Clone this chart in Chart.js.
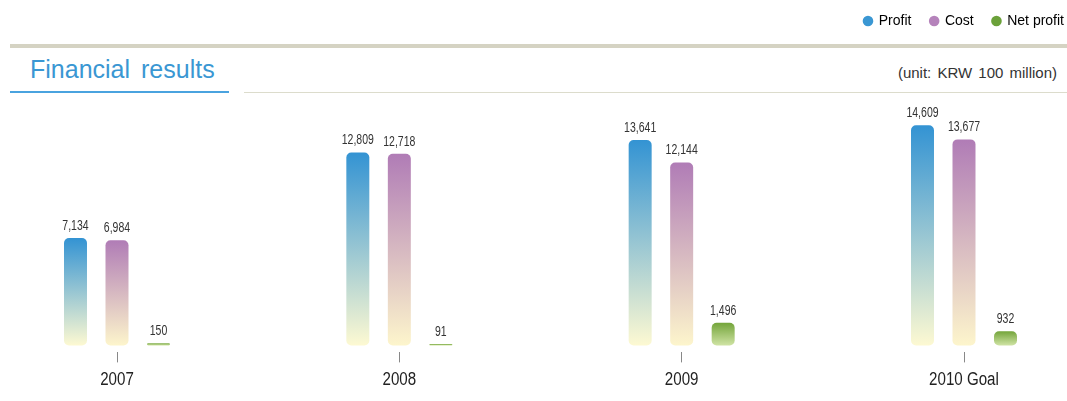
<!DOCTYPE html>
<html>
<head>
<meta charset="utf-8">
<script src="https://cdn.jsdelivr.net/npm/chart.js@4.4.1/dist/chart.umd.min.js"></script>
<style>
  body { margin: 0; background: #fff; }
  #wrap { position: relative; width: 1067px; height: 401px; overflow: hidden; }
  #wrap canvas { position: absolute; left: 0; top: 0; }
  .bar-top { position: absolute; left: 10px; top: 44px; width: 1057px; height: 4px; background: #d5d3c3; }
  .title { position: absolute; left: 30px; top: 57px; font: 25px/25px "Liberation Sans", Arial, sans-serif; color: #3a97d3; word-spacing: 4px; }
  .line-blue { position: absolute; left: 10px; top: 91px; width: 219px; height: 2px; background: #4aa3df; }
  .line-beige { position: absolute; left: 244px; top: 92px; width: 823px; height: 1px; background: #dcdccc; }
  .unit { position: absolute; right: 10px; top: 65px; font: 15px/15px "Liberation Sans", Arial, sans-serif; color: #333; word-spacing: 2px; }
</style>
</head>
<body>
<div id="wrap">
  <div class="bar-top"></div>
  <div class="title">Financial results</div>
  <div class="line-blue"></div>
  <div class="line-beige"></div>
  <div class="unit">(unit: KRW 100 million)</div>
  <canvas id="bieudo" width="1067" height="401"></canvas>
</div>
<script>
// du lieu
var years = ['2007', '2008', '2009', '2010 Goal'];
var profit = [7134, 12809, 13641, 14609];
var cost = [6984, 12718, 12144, 13677];
var netProfit = [150, 91, 1496, 932];

var seriesNames = ['Profit', 'Cost', 'Net profit'];
var legendColors = ['#3a97d3', '#b583bb', '#6ba13a'];
// mau gradient: tren -> duoi
var gradColors = [
    ['#3393d3', '#fdf9d2'],
    ['#b07cb6', '#fdf5cc'],
    ['#74a53b', '#cfe3a4']
];

function taoGradient(context) {
    var chart = context.chart;
    var area = chart.chartArea;
    if (!area || !chart.scales.y) return gradColors[context.datasetIndex][0];
    var v = context.raw;
    var yTop = chart.scales.y.getPixelForValue(v);
    var yBot = chart.scales.y.getPixelForValue(0);
    if (yBot - yTop < 1) yTop = yBot - 1;
    var g = chart.ctx.createLinearGradient(0, yTop, 0, yBot);
    g.addColorStop(0, gradColors[context.datasetIndex][0]);
    g.addColorStop(1, gradColors[context.datasetIndex][1]);
    return g;
}

// chu hep (ep ngang)
function veChuHep(ctx, text, x, y, size, scaleX) {
    ctx.save();
    ctx.translate(x, y);
    ctx.scale(scaleX, 1);
    ctx.font = size + 'px "Liberation Sans", Arial, sans-serif';
    ctx.textAlign = 'center';
    ctx.textBaseline = 'alphabetic';
    ctx.fillText(text, 0, 0);
    ctx.restore();
}

// nhan gia tri tren cot + nhan nam
var nhanGiaTri = {
    id: 'nhanGiaTri',
    afterDatasetsDraw: function (chart) {
        var ctx = chart.ctx;
        ctx.save();
        ctx.fillStyle = '#333';
        chart.data.datasets.forEach(function (ds, i) {
            chart.getDatasetMeta(i).data.forEach(function (bar, j) {
                veChuHep(ctx, ds.data[j].toLocaleString('en-US'), bar.x, bar.y - 8, 14, 0.75);
            });
        });
        var x = chart.scales.x;
        ctx.fillStyle = '#222';
        chart.data.labels.forEach(function (lb, i) {
            veChuHep(ctx, lb, x.getPixelForValue(i), chart.chartArea.bottom + 33, 18, 0.84);
        });
        ctx.restore();
    }
};

// day phan chu thich cao hon
var doiLegend = {
    id: 'doiLegend',
    beforeInit: function (chart) {
        var fit = chart.legend.fit;
        chart.legend.fit = function () {
            fit.call(this);
            this.height += 66;
        };
    }
};

var datasets = [profit, cost, netProfit].map(function (arr, i) {
    return {
        label: seriesNames[i],
        data: arr,
        backgroundColor: taoGradient,
        borderRadius: 5,
        borderSkipped: false,
        categoryPercentage: 0.441,
        barPercentage: 0.554,
        clip: false
    };
});

new Chart(document.getElementById('bieudo'), {
    type: 'bar',
    data: { labels: years, datasets: datasets },
    options: {
        responsive: false,
        animation: false,
        devicePixelRatio: 1,
        layout: { padding: { left: 0, right: -16, top: -5, bottom: 7 } },
        plugins: {
            legend: {
                position: 'top',
                align: 'end',
                labels: {
                    usePointStyle: true,
                    pointStyle: 'circle',
                    boxWidth: 7.5,
                    boxHeight: 7.5,
                    padding: 19,
                    color: '#555',
                    font: { family: '"Liberation Sans", Arial, sans-serif', size: 14 },
                    generateLabels: function () {
                        return seriesNames.map(function (n, i) {
                            return {
                                text: n,
                                fillStyle: legendColors[i],
                                strokeStyle: legendColors[i],
                                lineWidth: 0,
                                pointStyle: 'circle',
                                datasetIndex: i
                            };
                        });
                    }
                },
                onClick: null
            },
            tooltip: { enabled: false }
        },
        scales: {
            x: {
                offset: false,
                grid: {
                    display: true,
                    offset: false,
                    drawOnChartArea: false,
                    drawTicks: true,
                    tickLength: 10,
                    color: '#888',
                    lineWidth: 1
                },
                border: { display: false },
                ticks: {
                    padding: 5,
                    color: 'rgba(0,0,0,0)',
                    font: { family: '"Liberation Sans", Arial, sans-serif', size: 18 },
                    maxRotation: 0,
                    autoSkip: false
                }
            },
            y: {
                display: true,
                min: -465,
                max: 16027,
                grid: { display: false },
                border: { display: false },
                ticks: { display: false },
                afterFit: function (s) { s.width = 117; }
            },
            y2: {
                position: 'right',
                display: true,
                grid: { display: false },
                border: { display: false },
                ticks: { display: false },
                afterFit: function (s) { s.width = 119; }
            }
        }
    },
    plugins: [nhanGiaTri, doiLegend]
});
</script>
</body>
</html>
